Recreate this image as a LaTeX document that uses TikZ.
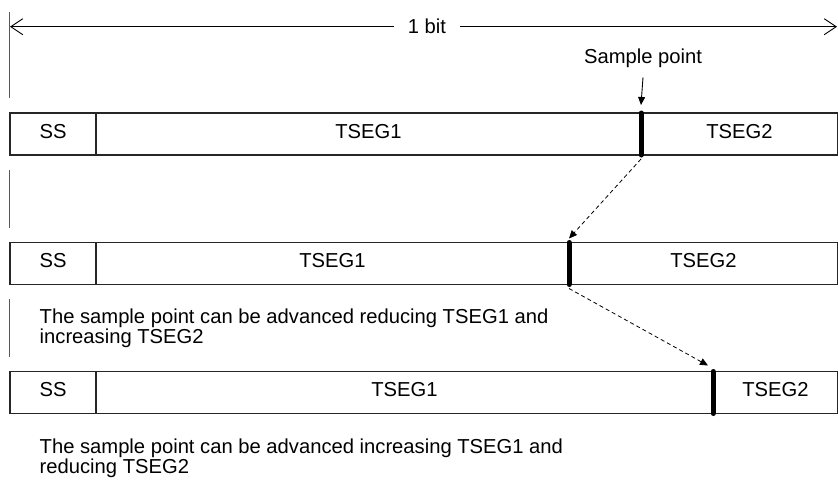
\documentclass[tikz,border=0pt]{standalone}
\usepackage{fontspec}
\setmainfont{Liberation Sans}
\usetikzlibrary{arrows.meta, positioning}
\newcommand\lblfont{\fontsize{20.2pt}{17pt}\selectfont}
\tikzset{
  seg/.style  ={rectangle, draw=black!85, line width=1.2pt, inner sep=0pt, outer sep=0pt, minimum height=42pt, text height=14.3pt, text depth=5.7pt, font=\lblfont},
  spbar/.style={line width=5pt, line cap=round},
  dim/.style  ={line width=0.9pt, -{Straight Barb[length=12pt,width=16pt]}},
  tick/.style ={draw=black!65, line width=1pt},
  mv/.style   ={dash pattern=on 4pt off 3pt, line width=0.8pt, -{Triangle[length=8pt,width=7pt]}},
  pt/.style   ={line width=0.9pt, -{Triangle[length=8pt,width=7pt]}},
  note/.style ={align=left, anchor=north west, inner sep=0pt, font=\lblfont},
}
\begin{document}
\begin{tikzpicture}[x=1pt, y=-1pt, node distance=0pt]
  \useasboundingbox (0,0) rectangle (838,480);
  % bit time
  \node[font=\lblfont, inner ysep=0pt, inner xsep=14pt] (bitlbl) at (427,26.7) {1 bit};
  \coordinate (bitl) at (10,26.7);
  \coordinate (bitr) at (837,26.7);
  \draw[dim] (bitlbl.west) -- (bitl);
  \draw[dim] (bitlbl.east) -- (bitr);
  \draw[tick] (9.5,12) -- (9.5,98);
  \draw[tick] (9.5,170) -- (9.5,228);
  \draw[tick] (9.5,299) -- (9.5,357);

  % nominal bit
  \node[seg, minimum width=86pt] (ss1) at (53,134) {SS};
  \node[seg, minimum width=545pt, right=of ss1] (t1a) {TSEG1};
  \node[seg, minimum width=197pt, right=of t1a] (t1b) {TSEG2};
  \node[font=\lblfont, inner sep=0pt, anchor=base] (splbl) at (643,63) {Sample point};
  \coordinate (sptip) at ([yshift=8pt]t1a.north east);
  \draw[pt] ([yshift=-10pt]splbl.south) -- (sptip);

  % earlier sample point
  \node[seg, minimum width=86pt] (ss2) at (53,263.5) {SS};
  \node[seg, minimum width=473pt, right=of ss2] (t2a) {TSEG1};
  \node[seg, minimum width=269pt, right=of t2a] (t2b) {TSEG2};
  \node[note] (adv1) at (39.5,309) {The sample point can be advanced reducing TSEG1 and\\increasing TSEG2};

  % later sample point
  \node[seg, minimum width=86pt] (ss3) at (53,392.5) {SS};
  \node[seg, minimum width=617pt, right=of ss3] (t3a) {TSEG1};
  \node[seg, minimum width=125pt, right=of t3a] (t3b) {TSEG2};
  \node[note] (adv2) at (39.5,438.4) {The sample point can be advanced increasing TSEG1 and\\reducing TSEG2};

  \draw[spbar] (t1a.north east) -- (t1a.south east);
  \draw[spbar] (t2a.north east) -- (t2a.south east);
  \draw[spbar] (t3a.north east) -- (t3a.south east);
  \draw[mv] ([yshift=-4pt]t1a.south east) -- ([yshift=4pt]t2a.north east);
  \draw[mv] ([yshift=-4pt]t2a.south east) -- ([xshift=-5pt,yshift=6pt]t3a.north east);
\end{tikzpicture}
\end{document}
